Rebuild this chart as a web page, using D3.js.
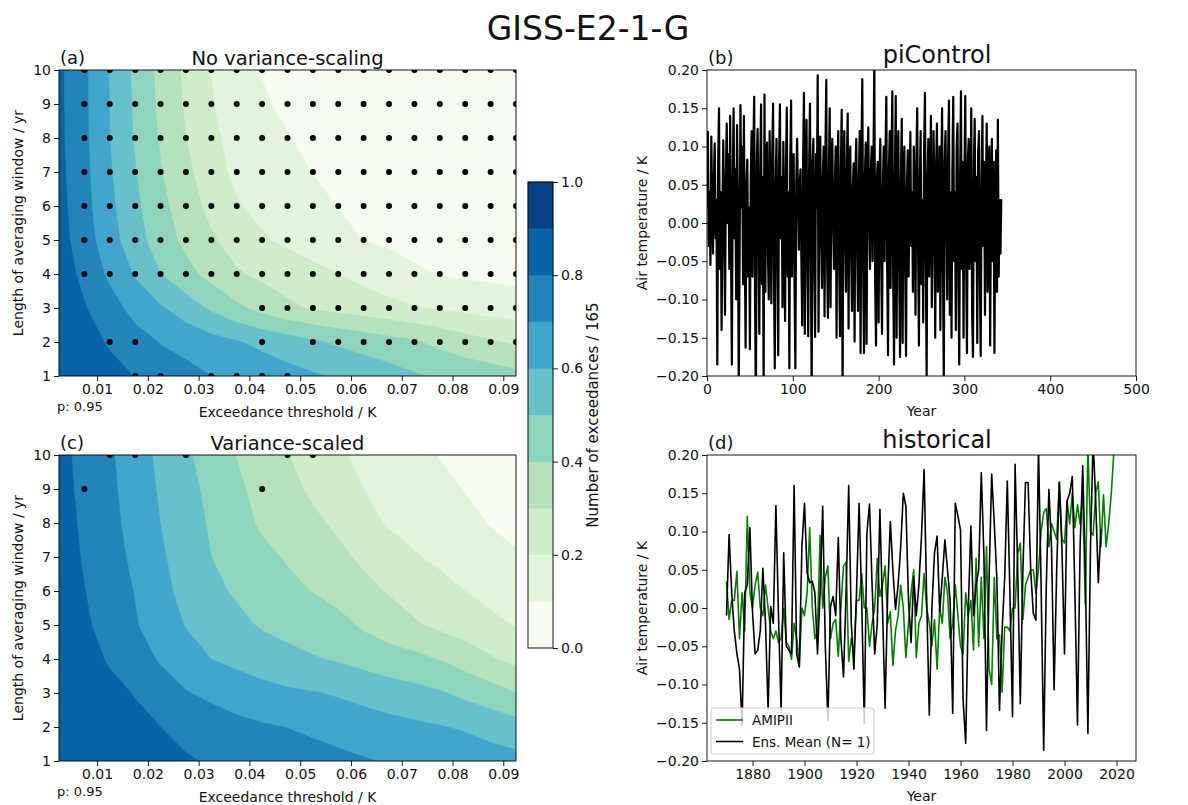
<!DOCTYPE html>
<html>
<head>
<meta charset="utf-8">
<script src="https://cdn.jsdelivr.net/npm/d3@7"></script>
<style>
  body { margin: 0; background: white; }
  text { font-family: "DejaVu Sans", sans-serif; }
</style>
</head>
<body>
<div id="vizContainer"></div>
<script>
// exceedance thresholds (K) and averaging windows (yr) of the contour grids
let thresholds = [0.0025, 0.0075, 0.0125, 0.0175, 0.0225, 0.0275, 0.0325, 0.0375, 0.0425, 0.0475,
  0.0525, 0.0575, 0.0625, 0.0675, 0.0725, 0.0775, 0.0825, 0.0875, 0.0925];
let windows = [1, 2, 3, 4, 5, 6, 7, 8, 9, 10];
let levels = [0, 0.1, 0.2, 0.3, 0.4, 0.5, 0.6, 0.7, 0.8, 0.9, 1.0];
let xTicksK = [0.01, 0.02, 0.03, 0.04, 0.05, 0.06, 0.07, 0.08, 0.09];
let cbTicks = [0, 0.2, 0.4, 0.6, 0.8, 1.0];

// fraction of exceedances, one row per window (1 yr first)
let fracNoScaling = [
  [.89, .86, .83, .797, .765, .732, .70, .678, .655, .633, .611, .59, .565, .54, .51, .49, .47, .45, .43],
  [.88, .835, .79, .74, .695, .665, .635, .607, .578, .547, .515, .485, .46, .435, .41, .375, .34, .31, .285],
  [.87, .807, .74, .665, .61, .55, .483, .42, .365, .318, .29, .268, .248, .228, .208, .19, .175, .162, .15],
  [.856, .773, .68, .59, .50, .43, .367, .31, .28, .255, .228, .2, .17, .142, .112, .096, .085, .077, .07],
  [.84, .745, .64, .54, .45, .375, .312, .26, .21, .18, .15, .125, .098, .085, .075, .068, .06, .055, .05],
  [.833, .732, .622, .52, .428, .345, .273, .207, .176, .15, .123, .098, .085, .075, .065, .057, .05, .045, .04],
  [.826, .725, .61, .505, .405, .325, .237, .18, .15, .123, .098, .082, .07, .06, .052, .045, .04, .035, .03],
  [.822, .72, .60, .49, .39, .30, .217, .172, .138, .103, .085, .07, .058, .05, .043, .037, .032, .028, .025],
  [.82, .717, .598, .484, .378, .288, .204, .158, .107, .088, .072, .06, .05, .043, .037, .032, .027, .023, .02],
  [.82, .717, .595, .478, .371, .28, .20, .147, .097, .08, .065, .055, .045, .04, .035, .03, .025, .02, .02]
];
let fracScaled = [
  [.89, .88, .865, .85, .83, .81, .79, .778, .765, .752, .74, .725, .708, .692, .68, .67, .655, .642, .63],
  [.9, .875, .85, .825, .8, .77, .745, .725, .71, .698, .68, .66, .645, .63, .618, .605, .59, .565, .54],
  [.885, .855, .825, .795, .745, .705, .68, .655, .632, .615, .605, .59, .57, .55, .53, .51, .475, .44, .40],
  [.875, .835, .79, .74, .69, .645, .60, .575, .55, .527, .507, .49, .465, .44, .425, .395, .355, .31, .27],
  [.86, .815, .762, .707, .65, .595, .56, .525, .49, .47, .45, .43, .385, .35, .31, .28, .25, .22, .195],
  [.85, .802, .749, .696, .63, .568, .523, .487, .454, .424, .397, .365, .325, .292, .262, .232, .20, .175, .15],
  [.845, .791, .737, .679, .613, .555, .50, .46, .425, .39, .355, .32, .283, .245, .208, .18, .155, .13, .105],
  [.84, .784, .727, .665, .599, .542, .488, .437, .385, .352, .318, .283, .228, .19, .17, .145, .12, .096, .085],
  [.833, .776, .72, .655, .588, .53, .475, .417, .37, .326, .284, .242, .20, .173, .146, .12, .097, .085, .073],
  [.83, .769, .712, .646, .578, .515, .455, .397, .35, .304, .255, .212, .18, .15, .12, .097, .085, .072, .06]
];

// significant points: threshold column indices for each window (1 yr first)
let sigNoScaling = [
  [3, 4, 6, 7, 8, 9],
  [2, 3, 8, 10, 11, 12, 13, 14, 15, 16, 17, 18],
  [8, 9, 10, 11, 12, 13, 14, 15, 16, 17, 18],
  [1, 2, 3, 4, 5, 6, 7, 8, 9, 10, 11, 12, 13, 14, 15, 16, 17, 18],
  [1, 2, 3, 4, 5, 6, 7, 8, 9, 10, 11, 12, 13, 14, 15, 16, 17, 18],
  [1, 2, 3, 4, 5, 6, 7, 8, 9, 10, 11, 12, 13, 14, 15, 16, 17, 18],
  [1, 2, 3, 4, 5, 6, 7, 8, 9, 10, 11, 12, 13, 14, 15, 16, 17, 18],
  [1, 2, 3, 4, 5, 6, 7, 8, 9, 10, 11, 12, 13, 14, 15, 16, 17, 18],
  [1, 2, 3, 4, 5, 6, 7, 8, 9, 10, 11, 12, 13, 14, 15, 16, 17, 18],
  [1, 2, 3, 4, 5, 6, 7, 8, 9, 10, 11, 12, 13, 14, 15, 16, 17, 18]
];
let sigScaled = [[], [], [], [], [], [], [], [], [1, 8], [2, 3, 5, 9, 10]];

// piControl anomaly (K), model years 0..344
let piControl = [
  0.02, 0.119, -0.03, 0.04, -0.055, 0.113, 0.02, -0.04, 0.06, 0.104, -0.02, 0.03, -0.185, 0.08, 0.15,
  -0.06, 0.04, -0.14, 0.02, 0.108, -0.02, -0.12, 0.06, 0.13, 0.00, 0.09, -0.06, 0.14, -0.04, -0.185,
  0.06, 0.15, -0.02, 0.07, -0.10, 0.128, 0.03, -0.22, -0.04, 0.154, 0.02, 0.10, -0.08, 0.14, -0.03,
  -0.163, 0.05, 0.083, -0.07, 0.02, -0.165, 0.06, 0.12, -0.07, 0.09, 0.165, -0.10, -0.24, 0.08, 0.123,
  -0.02, -0.145, 0.07, 0.155, -0.08, 0.06, -0.22, 0.168, -0.09, 0.08, 0.105, -0.04, -0.10, 0.12, 0.02,
  -0.105, 0.09, 0.156, -0.06, -0.19, 0.05, 0.11, -0.04, -0.173, 0.08, 0.155, -0.02, 0.06, -0.11, 0.106,
  -0.02, -0.128, 0.07, 0.151, -0.07, 0.04, -0.19, 0.08, 0.16, -0.07, 0.06, 0.09, -0.08, -0.19, 0.05,
  0.11, 0.04, -0.035, 0.05, 0.07, -0.05, -0.134, 0.08, 0.17, -0.145, 0.07, 0.135, -0.06, -0.148, 0.07,
  0.156, -0.03, -0.23, 0.08, 0.11, -0.05, -0.149, 0.09, 0.02, 0.193, -0.142, 0.06, 0.113, -0.02, -0.085,
  0.06, 0.10, -0.122, 0.09, 0.187, -0.05, -0.124, 0.06, 0.15, -0.11, 0.07, 0.11, 0.00, -0.06, 0.05,
  0.10, -0.15, 0.08, 0.12, -0.05, -0.148, 0.07, 0.148, -0.23, 0.07, 0.12, -0.02, -0.09, 0.08, 0.143,
  -0.138, 0.06, 0.10, -0.04, -0.115, 0.05, 0.078, -0.155, 0.07, 0.11, -0.03, -0.115, 0.06, 0.12, -0.17,
  0.09, 0.188, -0.06, -0.17, 0.06, 0.105, -0.158, 0.07, 0.125, 0.00, -0.06, 0.07, 0.10, -0.05, 0.08,
  0.21, -0.08, -0.16, 0.06, 0.08, -0.13, 0.06, 0.11, -0.05, -0.145, 0.05, 0.10, -0.05, 0.09, 0.165,
  -0.06, -0.173, 0.07, 0.12, -0.085, 0.08, 0.172, -0.07, -0.185, 0.06, 0.166, -0.15, 0.07, 0.12, -0.06,
  -0.175, 0.06, 0.136, -0.157, 0.07, 0.10, -0.06, -0.174, 0.05, 0.095, -0.07, 0.03, 0.119, -0.03, 0.04,
  -0.09, 0.10, 0.04, -0.12, 0.08, 0.15, -0.03, -0.16, 0.05, 0.12, -0.08, 0.03, -0.13, 0.09, 0.17,
  -0.05, -0.20, 0.06, 0.11, -0.07, 0.02, 0.14, -0.11, -0.03, 0.12, 0.05, -0.15, 0.07, 0.13, -0.09,
  -0.02, 0.10, -0.14, 0.06, 0.15, -0.06, -0.21, 0.08, 0.12, 0.00, -0.10, 0.09, 0.16, -0.12, 0.04,
  -0.15, 0.07, 0.165, -0.05, 0.04, -0.14, 0.10, 0.13, -0.08, -0.185, 0.06, 0.172, -0.06, 0.08, -0.15,
  0.05, 0.166, -0.04, -0.17, 0.08, 0.11, -0.06, 0.02, 0.15, -0.12, -0.175, 0.07, 0.136, -0.05, 0.06,
  -0.157, 0.09, 0.12, -0.07, -0.174, 0.05, 0.14, -0.03, 0.08, -0.12, 0.04, 0.13, -0.09, 0.06, 0.10,
  -0.16, 0.03, 0.11, -0.05, 0.08, -0.17, 0.02, 0.095, -0.09, 0.135, -0.07, 0.03, -0.04, 0.03, 0.03
];

// historical: ensemble mean and AMIPII, both from 1870
let histStart = 1870;
let ensMean = [
  -0.01, 0.096, 0.02, -0.03, -0.06, -0.08, -0.153, 0.02, 0.03, 0.105,
  -0.005, -0.06, -0.055, -0.03, 0.052, -0.02, -0.134, 0.002, -0.02, 0.134,
  -0.01, -0.134, 0.072, -0.05, -0.055, -0.06, 0.16, -0.06, -0.077, 0.08,
  0.137, 0.046, 0.033, 0.035, 0.02, -0.06, 0.02, 0.133, -0.05, -0.147,
  0.002, 0.015, -0.01, 0.092, -0.04, -0.09, 0.02, 0.16, -0.02, -0.08,
  0.02, 0.137, 0.01, -0.151, 0.098, 0.136, 0.03, -0.06, -0.02, 0.129,
  0.0, -0.131, 0.02, 0.113, 0.05, -0.002, 0.03, 0.08, 0.15, 0.133,
  0.01, -0.045, 0.041, -0.01, 0.03, 0.094, 0.181, 0.01, -0.14, 0.0,
  0.072, 0.094, -0.005, 0.04, 0.089, 0.05, 0.01, -0.138, 0.137, 0.12,
  0.102, -0.12, -0.177, 0.0, 0.107, -0.01, 0.03, 0.05, 0.177, 0.07,
  -0.16, 0.04, 0.175, 0.11, 0.037, -0.134, -0.03, 0.04, 0.166, 0.02,
  -0.142, 0.188, 0.05, -0.125, 0.05, 0.164, 0.164, 0.05, -0.007, -0.016,
  0.21, 0.03, -0.186, 0.03, 0.155, 0.08, -0.107, 0.05, 0.164, 0.08,
  -0.06, 0.14, 0.15, 0.172, 0.02, -0.153, 0.08, 0.186, 0.05, -0.164,
  0.08, 0.22, 0.14, 0.033, 0.103
];
let amip = [
  0.035, -0.015, 0.01, 0.01, 0.048, -0.04, 0.02, -0.03, 0.12, 0.02,
  0.0, 0.03, 0.047, 0.0, -0.01, 0.03, 0.0, -0.03, -0.04, -0.03,
  -0.045, -0.04, 0.0, -0.045, -0.05, -0.067, -0.02, -0.04, -0.075, 0.0,
  -0.01, 0.02, 0.105, 0.0, -0.04, -0.03, 0.095, 0.0, 0.04, 0.055,
  -0.04, -0.02, -0.015, -0.063, 0.0, 0.055, 0.06, -0.07, -0.04, -0.06,
  0.01, 0.01, 0.045, 0.0, 0.0, -0.05, -0.02, 0.0, 0.065, 0.015,
  0.03, 0.055, -0.02, -0.005, -0.075, -0.03, -0.01, 0.03, 0.0, -0.065,
  -0.02, 0.02, 0.05, -0.065, -0.02, -0.01, 0.045, 0.0, -0.02, -0.05,
  -0.015, -0.08, 0.0, -0.02, 0.04, 0.02, -0.04, -0.02, 0.03, -0.01,
  -0.05, -0.06, 0.02, -0.01, 0.01, -0.055, 0.065, -0.05, 0.04, -0.04,
  0.08, -0.08, -0.10, 0.04, -0.04, -0.035, -0.11, -0.025, -0.025, -0.03,
  0.0, 0.0, 0.07, 0.085, -0.015, 0.03, 0.04, 0.05, 0.05, 0.02,
  0.05, 0.10, 0.125, 0.13, 0.08, 0.11, 0.10, 0.09, 0.165, 0.09,
  0.085, 0.14, 0.11, 0.15, 0.105, 0.135, 0.11, 0.15, 0.005, 0.21,
  0.10, 0.095, 0.15, 0.165, 0.08, 0.148, 0.08, 0.11, 0.15, 0.205
];
let tempTicks = [-0.2, -0.15, -0.1, -0.05, 0, 0.05, 0.1, 0.15, 0.2];
let piYearTicks = [0, 100, 200, 300, 400, 500];
let histYearTicks = [1880, 1900, 1920, 1940, 1960, 1980, 2000, 2020];

let gnbu = ["#f7fcf0", "#e0f3db", "#ccebc5", "#a8ddb5", "#7bccc4", "#4eb3d3", "#2b8cbe", "#0868ac", "#084081"];
let gnbuMap = d3.piecewise(d3.interpolateRgb, gnbu);
let bandColor = i => gnbuMap(i / (levels.length - 2));

let w = 1188;
let h = 805;
let viz = d3.select("#vizContainer")
  .append("svg")
  .attr("width", w)
  .attr("height", h)
  .style("background-color", "white");

let fs = 14; // tick / label font size

function styleAxis(g) {
  g.select(".domain").remove();
  g.selectAll(".tick line").attr("stroke", "#000").attr("stroke-width", 0.9);
  g.selectAll(".tick text").attr("font-size", fs).attr("fill", "#111")
    .attr("font-family", "DejaVu Sans, sans-serif");
}

function frame(box) {
  viz.append("rect")
    .attr("x", box.x0).attr("y", box.y0)
    .attr("width", box.x1 - box.x0).attr("height", box.y1 - box.y0)
    .attr("fill", "none").attr("stroke", "#000").attr("stroke-width", 0.9);
}

function clip(box, id) {
  viz.append("clipPath").attr("id", id)
    .append("rect")
    .attr("x", box.x0).attr("y", box.y0)
    .attr("width", box.x1 - box.x0).attr("height", box.y1 - box.y0);
}

function addText(x, y, str, size, opts) {
  opts = opts || {};
  let t = viz.append("text")
    .attr("x", x).attr("y", y)
    .attr("font-size", size)
    .attr("fill", "#111")
    .attr("text-anchor", opts.anchor || "start")
    .text(str);
  if (opts.rotate) {
    t.attr("transform", "rotate(" + opts.rotate + "," + x + "," + y + ")");
  }
  return t;
}

// ---------- contour panels ----------
function contourPanel(box, grid, sig, id, letter, title) {
  let n = thresholds.length;
  let m = windows.length;
  let xScale = d3.scaleLinear().domain([thresholds[0], thresholds[n - 1]]).range([box.x0, box.x1]);
  let yScale = d3.scaleLinear().domain([windows[0], windows[m - 1]]).range([box.y1, box.y0]);
  // d3.contours puts sample i at grid coordinate i + 0.5
  let gx = d3.scaleLinear().domain([0.5, n - 0.5]).range([xScale(thresholds[0]), xScale(thresholds[n - 1])]);
  let gy = d3.scaleLinear().domain([0.5, m - 0.5]).range([yScale(windows[0]), yScale(windows[m - 1])]);

  let contours = d3.contours()
    .size([n, m])
    .thresholds(levels.slice(0, -1))(grid.flat());

  let path = d3.geoPath(d3.geoTransform({
    point: function (px, py) { this.stream.point(gx(px), gy(py)); }
  }));

  clip(box, id);
  let fillGroup = viz.append("g").attr("clip-path", "url(#" + id + ")");
  fillGroup.selectAll("path")
    .data(contours)
    .join("path")
    .attr("d", path)
    .attr("fill", (d, i) => bandColor(i))
    .attr("stroke", (d, i) => bandColor(i))
    .attr("stroke-width", 0.6);

  let points = [];
  sig.forEach((cols, j) => {
    cols.forEach(i => points.push([thresholds[i], windows[j]]));
  });
  fillGroup.selectAll("circle")
    .data(points)
    .join("circle")
    .attr("cx", d => xScale(d[0]))
    .attr("cy", d => yScale(d[1]))
    .attr("r", 3)
    .attr("fill", "#000");

  frame(box);

  let xAxis = viz.append("g")
    .attr("transform", "translate(0," + box.y1 + ")")
    .call(d3.axisBottom(xScale).tickValues(xTicksK).tickFormat(d3.format(".2f")).tickSize(5).tickPadding(3));
  styleAxis(xAxis);
  let yAxis = viz.append("g")
    .attr("transform", "translate(" + box.x0 + ",0)")
    .call(d3.axisLeft(yScale).tickValues(windows).tickFormat(d3.format("d")).tickSize(5).tickPadding(3));
  styleAxis(yAxis);

  addText(box.x0 + 1, box.y0 - 6, letter, 18);
  addText((box.x0 + box.x1) / 2, box.y0 - 5, title, 19.5, { anchor: "middle" });
  addText(box.x0 - 2, box.y1 + 35, "p: 0.95", 13);
  addText((box.x0 + box.x1) / 2, box.y1 + 41, "Exceedance threshold / K", fs, { anchor: "middle" });
  addText(23, (box.y0 + box.y1) / 2, "Length of averaging window / yr", fs, { anchor: "middle", rotate: -90 });
}

let boxA = { x0: 59, x1: 516, y0: 70, y1: 376 };
let boxC = { x0: 59, x1: 516, y0: 455, y1: 761 };
contourPanel(boxA, fracNoScaling, sigNoScaling, "clipA", "(a)", "No variance-scaling");
contourPanel(boxC, fracScaled, sigScaled, "clipC", "(c)", "Variance-scaled");

// ---------- colorbar ----------
let boxCB = { x0: 528, x1: 553, y0: 182, y1: 648 };
let cbScale = d3.scaleLinear().domain([0, 1]).range([boxCB.y1, boxCB.y0]);
viz.append("g").selectAll("rect")
  .data(levels.slice(0, -1))
  .join("rect")
  .attr("x", boxCB.x0)
  .attr("y", (d, i) => cbScale(levels[i + 1]))
  .attr("width", boxCB.x1 - boxCB.x0)
  .attr("height", (d, i) => cbScale(levels[i]) - cbScale(levels[i + 1]))
  .attr("fill", (d, i) => bandColor(i))
  .attr("stroke", (d, i) => bandColor(i))
  .attr("stroke-width", 0.5);
frame(boxCB);
let cbAxis = viz.append("g")
  .attr("transform", "translate(" + boxCB.x1 + ",0)")
  .call(d3.axisRight(cbScale).tickValues(cbTicks).tickFormat(d3.format(".1f")).tickSize(5).tickPadding(3));
styleAxis(cbAxis);
addText(598, (boxCB.y0 + boxCB.y1) / 2, "Number of exceedances / 165", 15, { anchor: "middle", rotate: -90 });

// ---------- time series panels ----------
function seriesPanel(box, xDomain, xTicks, seriesList, id, letter, title) {
  let xScale = d3.scaleLinear().domain(xDomain).range([box.x0, box.x1]);
  let yScale = d3.scaleLinear().domain([-0.2, 0.2]).range([box.y1, box.y0]);
  clip(box, id);
  let lineGroup = viz.append("g").attr("clip-path", "url(#" + id + ")");
  seriesList.forEach(s => {
    let line = d3.line()
      .x((d, i) => xScale(s.start + i))
      .y(d => yScale(d));
    lineGroup.append("path")
      .datum(s.values)
      .attr("d", line)
      .attr("fill", "none")
      .attr("stroke", s.color)
      .attr("stroke-width", s.width)
      .attr("stroke-linejoin", "round");
  });
  frame(box);
  let xAxis = viz.append("g")
    .attr("transform", "translate(0," + box.y1 + ")")
    .call(d3.axisBottom(xScale).tickValues(xTicks).tickFormat(d3.format("d")).tickSize(5).tickPadding(3));
  styleAxis(xAxis);
  let yAxis = viz.append("g")
    .attr("transform", "translate(" + box.x0 + ",0)")
    .call(d3.axisLeft(yScale).tickValues(tempTicks).tickFormat(d3.format(".2f")).tickSize(5).tickPadding(3));
  styleAxis(yAxis);

  addText(box.x0 + 1, box.y0 - 6, letter, 18);
  addText(937, box.y0 - 7, title, 24, { anchor: "middle" });
  addText((box.x0 + box.x1) / 2, box.y1 + 40, "Year", fs, { anchor: "middle" });
  addText(647, (box.y0 + box.y1) / 2, "Air temperature / K", fs, { anchor: "middle", rotate: -90 });
  return xScale;
}

let boxB = { x0: 707, x1: 1136, y0: 70, y1: 376 };
let boxD = { x0: 707, x1: 1136, y0: 455, y1: 761 };
seriesPanel(boxB, [0, 500], piYearTicks,
  [{ values: piControl, start: 0, color: "#000", width: 2.2 }],
  "clipB", "(b)", "piControl");
seriesPanel(boxD, [1862.5, 2027.5], histYearTicks,
  [
    { values: amip, start: histStart, color: "#008000", width: 1.6 },
    { values: ensMean, start: histStart, color: "#000", width: 1.6 }
  ],
  "clipD", "(d)", "historical");

// legend
let legendItems = [
  { label: "AMIPII", color: "#008000" },
  { label: "Ens. Mean (N= 1)", color: "#000" }
];
let legend = viz.append("g").attr("transform", "translate(711,708)");
legend.append("rect")
  .attr("width", 163).attr("height", 46).attr("rx", 3)
  .attr("fill", "white").attr("fill-opacity", 0.8)
  .attr("stroke", "#cccccc").attr("stroke-width", 1);
let items = legend.selectAll("g.item")
  .data(legendItems)
  .join("g")
  .attr("class", "item")
  .attr("transform", (d, i) => "translate(0," + (12 + i * 21.5) + ")");
items.append("line")
  .attr("x1", 5).attr("x2", 32)
  .attr("stroke", d => d.color).attr("stroke-width", 1.6);
items.append("text")
  .attr("x", 41).attr("y", 5)
  .attr("font-size", 13.5).attr("fill", "#111")
  .text(d => d.label);

// main title
addText(588, 40, "GISS-E2-1-G", 33, { anchor: "middle" });
</script>
</body>
</html>
